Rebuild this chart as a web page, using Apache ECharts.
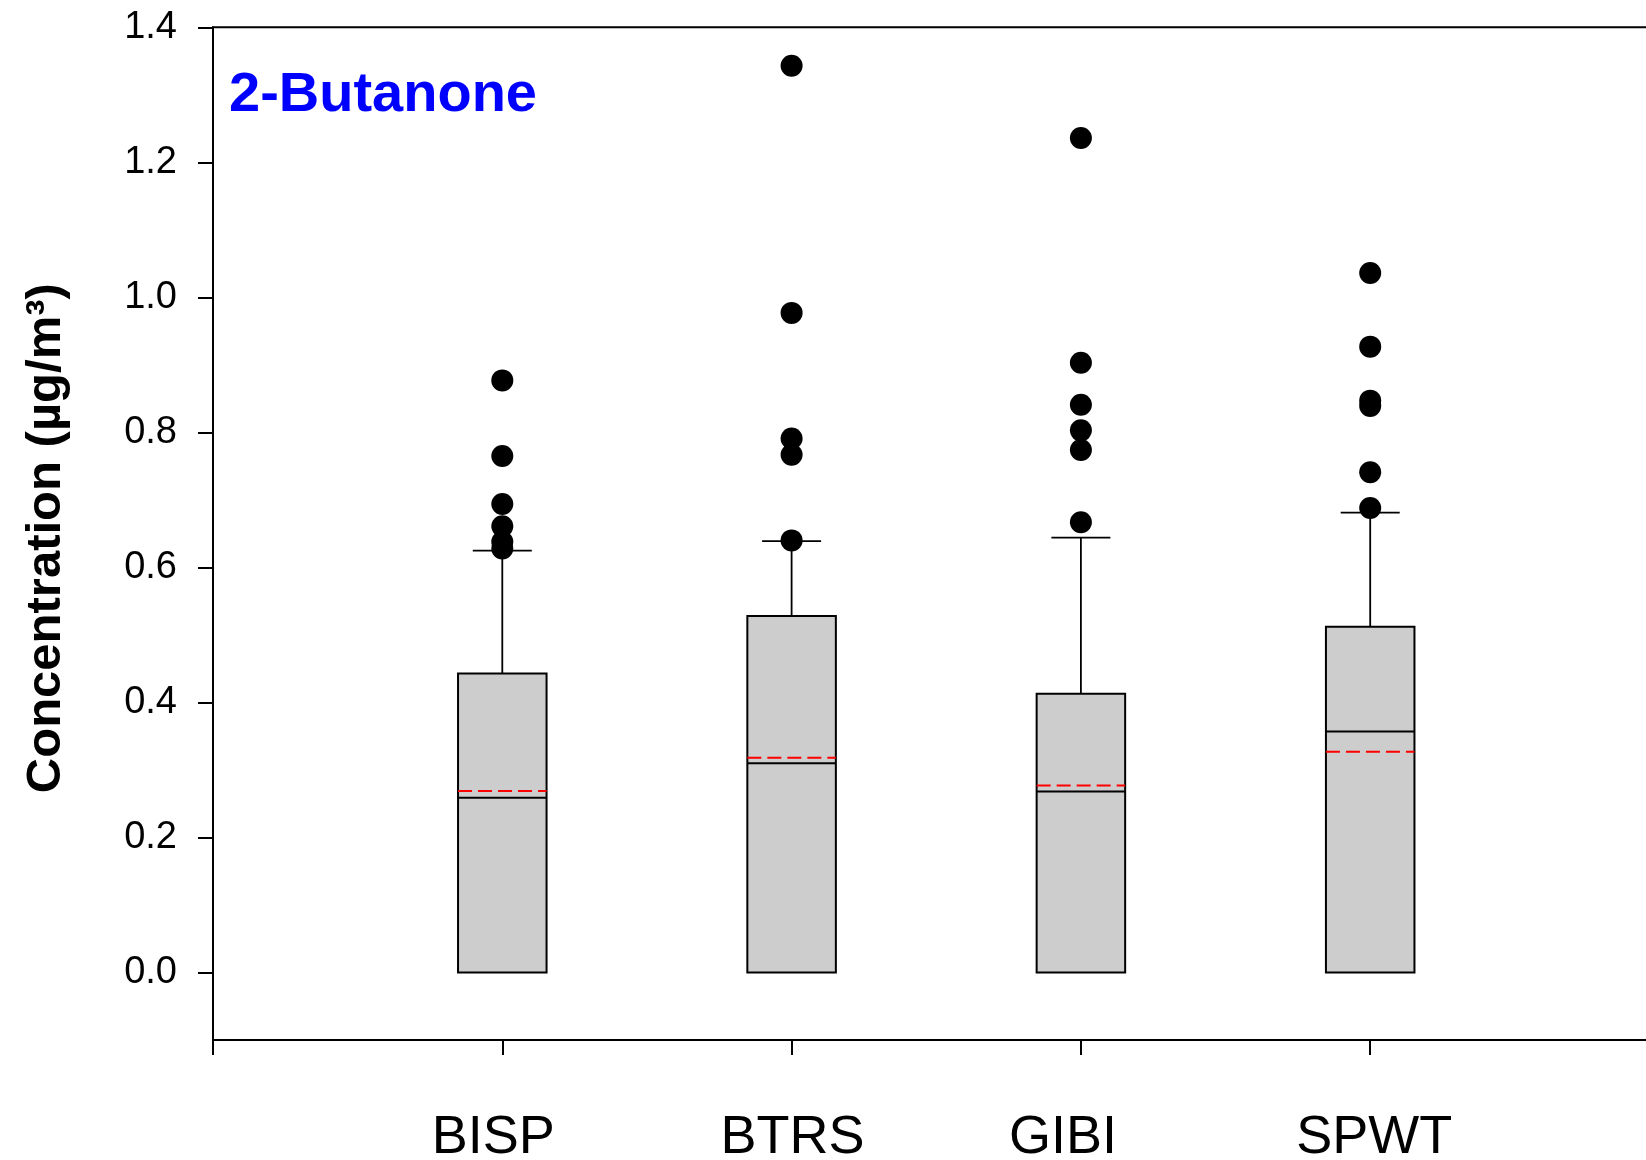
<!DOCTYPE html>
<html>
<head>
<meta charset="utf-8">
<script src="https://cdn.jsdelivr.net/npm/echarts@6/dist/echarts.min.js"></script>
<style>
  html, body { margin: 0; padding: 0; background: #fff; }
  #chart { width: 1646px; height: 1160px; }
</style>
</head>
<body>
<div id="chart"></div>
<script>
// ---- data ----
const categories = ['BISP', 'BTRS', 'GIBI', 'SPWT'];
const q1Values = [0, 0, 0, 0];
const q3Values = [0.443, 0.528, 0.413, 0.512];
const medianValues = [0.259, 0.310, 0.268, 0.357];
const meanValues = [0.269, 0.318, 0.277, 0.327];
const whiskerHigh = [0.625, 0.639, 0.644, 0.681];
const whiskerLow = [0, 0, 0, 0];
const outliersBISP = [0.877, 0.765, 0.694, 0.661, 0.638, 0.628];
const outliersBTRS = [1.343, 0.977, 0.791, 0.767, 0.640];
const outliersGIBI = [1.236, 0.903, 0.841, 0.803, 0.774, 0.667];
const outliersSPWT = [1.036, 0.927, 0.847, 0.839, 0.741, 0.688];
const yTickValues = [0, 0.2, 0.4, 0.6, 0.8, 1.0, 1.2, 1.4];

const outlierLists = [outliersBISP, outliersBTRS, outliersGIBI, outliersSPWT];

const boxData = categories.map((c, i) => [
  i + 1, q1Values[i], q3Values[i], medianValues[i], meanValues[i], whiskerHigh[i], whiskerLow[i]
]);
const outlierData = [];
outlierLists.forEach((list, i) => list.forEach(v => outlierData.push([i + 1, v])));

// ---- styling ----
const FONT = '"Liberation Sans", Arial, sans-serif';
const BOX_HALF = 0.153;
const CAP_HALF = 0.102;
// horizontal nudge (px) of each category label, as placed in the original figure
const LABEL_NUDGE = [-9, 1, -18, 4];

const labelRich = {};
LABEL_NUDGE.forEach((d, i) => {
  labelRich['c' + i] = {
    fontSize: 54, fontFamily: FONT, color: '#000',
    padding: d < 0 ? [0, -2 * d, 0, 0] : [0, 0, 0, 2 * d]
  };
});

const chart = echarts.init(document.getElementById('chart'), null, { renderer: 'canvas' });

const option = {
  animation: false,
  backgroundColor: '#ffffff',
  title: {
    text: '2-Butanone',
    left: 229,
    top: 68,
    padding: 0,
    textStyle: { color: '#0000ff', fontSize: 56, fontWeight: 'bold', fontFamily: FONT }
  },
  grid: {
    left: 213,
    top: 27.3,
    width: 1446.5,
    height: 1012.7,
    show: true,
    borderColor: '#000',
    borderWidth: 2,
    backgroundColor: 'transparent',
    containLabel: false,
    outerBoundsMode: 'none'
  },
  xAxis: {
    type: 'value',
    min: 0,
    max: 5,
    interval: 1,
    splitLine: { show: false },
    axisLine: { show: true, onZero: false, lineStyle: { color: '#000', width: 2 } },
    axisTick: { show: true, inside: false, length: 15, lineStyle: { color: '#000', width: 2 },
                customValues: [0, 1, 2, 3, 4, 5] },
    axisLabel: {
      show: true,
      margin: 71,
      color: '#000',
      fontSize: 54,
      fontFamily: FONT,
      customValues: [1, 2, 3, 4],
      rich: labelRich,
      formatter: v => {
        const i = Math.round(v) - 1;
        return categories[i] ? '{c' + i + '|' + categories[i] + '}' : '';
      }
    }
  },
  yAxis: {
    type: 'value',
    min: -0.1,
    max: 1.4,
    interval: 0.1,
    splitLine: { show: false },
    axisLine: { show: true, onZero: false, lineStyle: { color: '#000', width: 2 } },
    axisTick: { show: true, inside: false, length: 15, lineStyle: { color: '#000', width: 2 },
                customValues: yTickValues },
    axisLabel: {
      show: true,
      margin: 36,
      color: '#000',
      fontSize: 38,
      fontFamily: FONT,
      customValues: yTickValues,
      formatter: v => Number(v).toFixed(1)
    },
    name: 'Concentration (µg/m³)',
    nameLocation: 'middle',
    nameGap: 142,
    nameRotate: 90,
    nameTextStyle: { color: '#000', fontSize: 49, fontWeight: 'bold', fontFamily: FONT,
                     padding: [0, 9, 0, 0] }
  },
  series: [
    {
      type: 'custom',
      data: boxData,
      z: 2,
      renderItem: function (params, api) {
        const x = api.value(0);
        const q1 = api.value(1), q3 = api.value(2), med = api.value(3), mean = api.value(4);
        const wh = api.value(5), wl = api.value(6);
        const pL = api.coord([x - BOX_HALF, q3]);
        const pR = api.coord([x + BOX_HALF, q1]);
        const pC3 = api.coord([x, q3]);
        const pCH = api.coord([x, wh]);
        const pC1 = api.coord([x, q1]);
        const pCL = api.coord([x, wl]);
        const capL = api.coord([x - CAP_HALF, wh]);
        const capR = api.coord([x + CAP_HALF, wh]);
        const capLL = api.coord([x - CAP_HALF, wl]);
        const capLR = api.coord([x + CAP_HALF, wl]);
        const mL = api.coord([x - BOX_HALF, med]);
        const mR = api.coord([x + BOX_HALF, med]);
        const aL = api.coord([x - BOX_HALF, mean]);
        const aR = api.coord([x + BOX_HALF, mean]);
        const children = [
          { type: 'line', shape: { x1: pC3[0], y1: pC3[1], x2: pCH[0], y2: pCH[1] },
            style: { stroke: '#000', lineWidth: 1.8 } },
          { type: 'line', shape: { x1: capL[0], y1: capL[1], x2: capR[0], y2: capR[1] },
            style: { stroke: '#000', lineWidth: 1.8 } },
          { type: 'rect', shape: { x: pL[0], y: pL[1], width: pR[0] - pL[0], height: pR[1] - pL[1] },
            style: { fill: '#cdcdcd', stroke: '#000', lineWidth: 2 } },
          { type: 'line', shape: { x1: mL[0], y1: mL[1], x2: mR[0], y2: mR[1] },
            style: { stroke: '#000', lineWidth: 2 } },
          { type: 'line', shape: { x1: aL[0], y1: aL[1], x2: aR[0], y2: aR[1] },
            style: { stroke: '#ff0000', lineWidth: 2, lineDash: [14, 6] } }
        ];
        if (wl < q1) {
          children.push(
            { type: 'line', shape: { x1: pC1[0], y1: pC1[1], x2: pCL[0], y2: pCL[1] },
              style: { stroke: '#000', lineWidth: 1.8 } },
            { type: 'line', shape: { x1: capLL[0], y1: capLL[1], x2: capLR[0], y2: capLR[1] },
              style: { stroke: '#000', lineWidth: 1.8 } }
          );
        }
        return { type: 'group', children: children };
      }
    },
    {
      type: 'scatter',
      data: outlierData,
      symbol: 'circle',
      symbolSize: 22,
      z: 3,
      itemStyle: { color: '#000000', borderWidth: 0, opacity: 1 }
    }
  ]
};

chart.setOption(option);
</script>
</body>
</html>
